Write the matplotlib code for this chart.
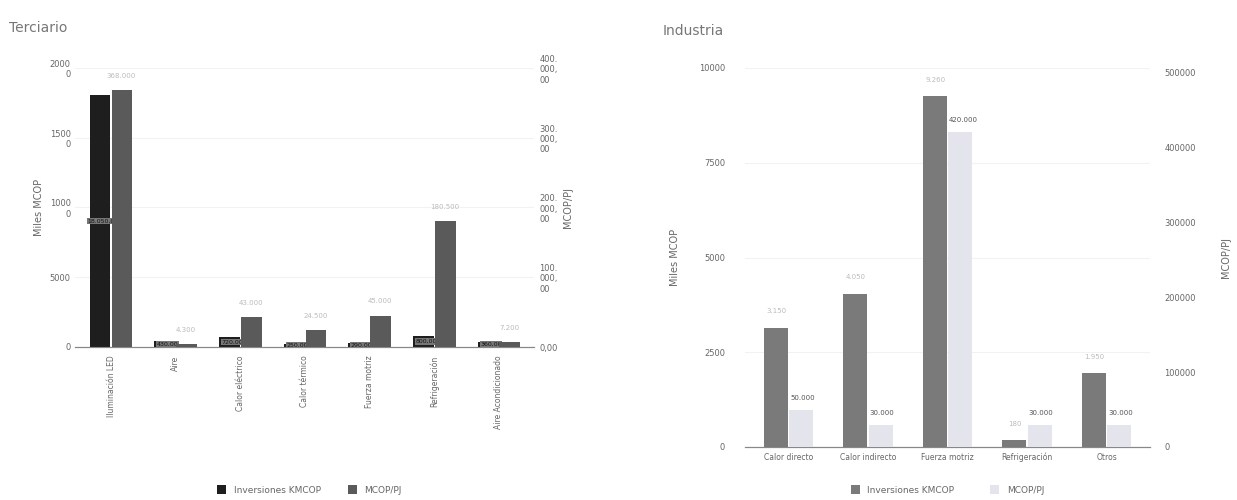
import numpy as np
import matplotlib.pyplot as plt

# Terciario
ter_cats = ["Iluminación LED", "Aire", "Calor eléctrico", "Calor térmico",
            "Fuerza motriz", "Refrigeración", "Aire Acondicionado"]
ter_inv = [18050, 430, 720, 250, 290, 800, 360]
ter_mcop = [368000, 4300, 43000, 24500, 45000, 180500, 7200]

# Industria
ind_cats = ["Calor directo", "Calor indirecto", "Fuerza motriz", "Refrigeración", "Otros"]
ind_inv = [3150, 4050, 9260, 180, 1950]
ind_mcop = [50000, 30000, 420000, 30000, 30000]

def fmt(v):
    return f"{v:,.0f}".replace(",", ".")

txt = "#666666"
plt.rcParams["font.family"] = "DejaVu Sans"
fig = plt.figure(figsize=(12.37, 5), dpi=100)

def style(ax):
    for s in ["top", "left", "right"]:
        ax.spines[s].set_visible(False)
    ax.spines["bottom"].set_color("#888888")
    ax.tick_params(length=0, labelsize=6, colors=txt)

# ---------- Terciario
ax1 = fig.add_axes([0.061, 0.306, 0.371, 0.558])
ax1b = ax1.twinx()
x = np.arange(len(ter_cats))
w = 0.32
b1 = ax1.bar(x - w / 2 - 0.01, ter_inv, w, color="#1e1e1e", label="Inversiones KMCOP", zorder=3)
b2 = ax1b.bar(x + w / 2 + 0.01, ter_mcop, w, color="#5a5a5a", label="MCOP/PJ", zorder=3)
ax1.set_xlim(-0.55, len(ter_cats) - 0.45)
ax1.set_ylim(0, 20000)
ax1b.set_ylim(0, 400000)
ax1.set_yticks([0, 5000, 10000, 15000, 20000])
ax1.set_yticklabels(["0", "5000", "1000\n0", "1500\n0", "2000\n0"])
ax1b.set_yticks([0, 100000, 200000, 300000, 400000])
ax1b.set_yticklabels(["0,00", "100.\n000,\n00", "200.\n000,\n00", "300.\n000,\n00", "400.\n000,\n00"])
ax1.set_xticks(x)
ax1.set_xticklabels(ter_cats, rotation=90)
ax1.grid(axis="y", color="#f2f2f2", lw=0.8, zorder=0)
for ax in (ax1, ax1b):
    style(ax)
ax1.tick_params(axis="x", labelsize=5.5, pad=6)
ax1.set_ylabel("Miles MCOP", fontsize=7, color=txt)
ax1b.set_ylabel("MCOP/PJ", fontsize=7, color=txt)
for xi, v in zip(x, ter_inv):
    ax1.text(xi - 0.12, max(v / 2, 150), fmt(v) + ",00", fontsize=4.5, color="#111111",
             ha="center", va="center", zorder=5,
             bbox=dict(boxstyle="square,pad=0.1", fc="#777777", ec="none"))
for xi, v in zip(x, ter_mcop):
    ax1b.text(xi + w / 2, v + 16000, fmt(v), fontsize=5, color="#bbbbbb", ha="center", va="bottom")
fig.text(0.007, 0.935, "Terciario", fontsize=10, color="#777777")
h1 = [b1, b2]
fig.legend(h1, [h.get_label() for h in h1], loc="center", bbox_to_anchor=(0.25, 0.02),
           ncol=2, frameon=False, fontsize=6.5, handlelength=1, handleheight=1,
           labelcolor=txt, columnspacing=3)

# ---------- Industria
ax2 = fig.add_axes([0.602, 0.106, 0.328, 0.758])
ax2b = ax2.twinx()
x2 = np.arange(len(ind_cats))
w2 = 0.3
c1 = ax2.bar(x2 - w2 / 2 - 0.01, ind_inv, w2, color="#7a7a7a", label="Inversiones KMCOP", zorder=3)
c2 = ax2b.bar(x2 + w2 / 2 + 0.01, ind_mcop, w2, color="#e4e4ec", label="MCOP/PJ", zorder=3)
ax2.set_xlim(-0.55, len(ind_cats) - 0.45)
ax2.set_ylim(0, 10000)
ax2b.set_ylim(0, 506000)
ax2.set_yticks([0, 2500, 5000, 7500, 10000])
ax2b.set_yticks([0, 100000, 200000, 300000, 400000, 500000])
ax2.set_xticks(x2)
ax2.set_xticklabels(ind_cats)
ax2.grid(axis="y", color="#f2f2f2", lw=0.8, zorder=0)
for ax in (ax2, ax2b):
    style(ax)
ax2.tick_params(axis="y", pad=14)
ax2b.tick_params(axis="y", pad=10)
ax2.tick_params(axis="x", labelsize=5.5, pad=4)
ax2.set_ylabel("Miles MCOP", fontsize=7, color=txt, labelpad=14)
ax2b.set_ylabel("MCOP/PJ", fontsize=7, color=txt, labelpad=18)
for xi, v in zip(x2, ind_inv):
    ax2.text(xi - w2 / 2, v + 350, fmt(v), fontsize=5, color="#bbbbbb", ha="center", va="bottom")
for xi, v in zip(x2, ind_mcop):
    ax2b.text(xi + 0.02, v + 12000, fmt(v), fontsize=5, color="#555555", ha="left", va="bottom")
fig.text(0.536, 0.93, "Industria", fontsize=10, color="#777777")
h2 = [c1, c2]
fig.legend(h2, [h.get_label() for h in h2], loc="center", bbox_to_anchor=(0.766, 0.02),
           ncol=2, frameon=False, fontsize=6.5, handlelength=1, handleheight=1,
           labelcolor=txt, columnspacing=4)

fig.savefig("out.png", dpi=100)
